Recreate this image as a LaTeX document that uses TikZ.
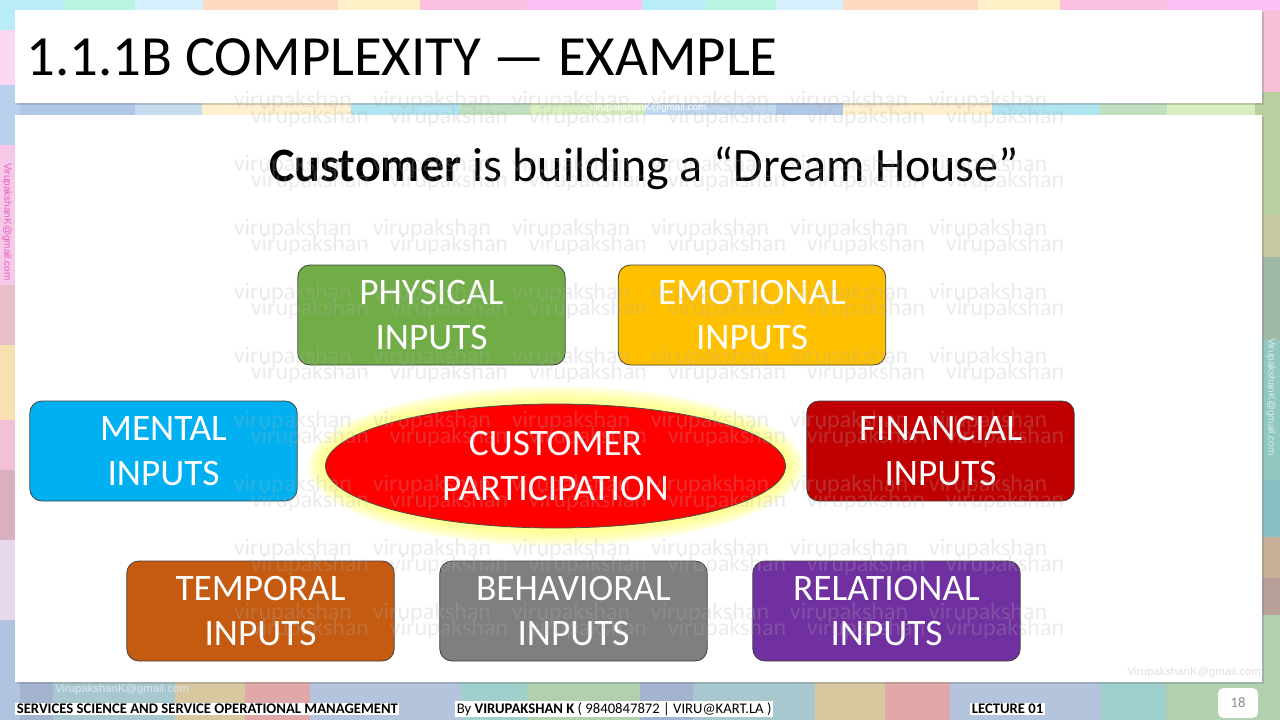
\documentclass[tikz,border=0pt]{standalone}
\usepackage{fontspec}
\setmainfont{Carlito}
\newfontfamily\arialf{Liberation Sans}
\usetikzlibrary{shapes.geometric,shadows}
\definecolor{cgreen}{HTML}{70AD47}
\definecolor{cgold}{HTML}{FFC000}
\definecolor{cblue}{HTML}{00B0F0}
\definecolor{cdred}{HTML}{C00000}
\definecolor{corange}{HTML}{C55A11}
\definecolor{cgray}{HTML}{7F7F7F}
\definecolor{cpurple}{HTML}{7030A0}
\definecolor{cglow}{HTML}{FFFF66}
\definecolor{wmgray}{HTML}{B0B0B0}
\newcommand\bgtile[5]{\definecolor{tilec}{HTML}{#5}\fill[tilec] (#1,#2) rectangle (#3,#4);}
\tikzset{
  inbox/.style={draw=black!75, line width=0.6pt, rounded corners=9pt, minimum width=200.5pt,
    minimum height=75pt, inner sep=0pt, text=white, align=center,
    font=\fontsize{28}{34}\selectfont},
  panel/.style={fill=white, draw=none, inner sep=0pt, outer sep=0pt,
    drop shadow={opacity=0.35, shadow xshift=1.5pt, shadow yshift=-1.5pt}},
  wm/.style={text=wmgray, opacity=0.25, inner sep=0pt, font=\fontsize{18}{18}\selectfont},
  foot/.style={fill=white, inner sep=1.2pt, anchor=west, font=\fontsize{11}{13}\selectfont},
  mail/.style={inner sep=0pt, font=\arialf\fontsize{7.5}{8}\selectfont},
}
\begin{document}
\begin{tikzpicture}[x=0.75pt,y=-0.75pt]
\useasboundingbox (0,0) rectangle (1280,720);
% ---------- background tiles ----------
\bgtile{0}{0}{65}{60}{B8ECF8}\bgtile{65}{0}{135}{60}{B8F5E0}\bgtile{135}{0}{203}{60}{D4F0FC}
\bgtile{203}{0}{338}{60}{FFD8C0}\bgtile{338}{0}{420}{60}{FFF0C8}\bgtile{420}{0}{527}{60}{FCC0E0}
\bgtile{527}{0}{642}{60}{FCC0F4}\bgtile{642}{0}{706}{60}{B8ECF8}\bgtile{706}{0}{776}{60}{B8F5E0}
\bgtile{776}{0}{843}{60}{D4F0FC}\bgtile{843}{0}{978}{60}{FFD8C0}\bgtile{978}{0}{1060}{60}{FFF0C8}
\bgtile{1060}{0}{1167}{60}{FCC0E0}\bgtile{1167}{0}{1280}{60}{FCC0F4}
\bgtile{0}{60}{135}{140}{B0C8E8}\bgtile{135}{60}{202}{140}{C8DCF0}\bgtile{202}{60}{351}{140}{FFF0D0}
\bgtile{351}{60}{460}{140}{B0E4F0}\bgtile{460}{60}{530}{140}{C0E0C0}\bgtile{530}{60}{645}{140}{D8F0C0}
\bgtile{645}{60}{776}{140}{C0D8F0}\bgtile{776}{60}{843}{140}{B0C8E8}\bgtile{843}{60}{992}{140}{FFF0D0}
\bgtile{992}{60}{1100}{140}{B0E4F0}\bgtile{1100}{60}{1167}{140}{C0E0C0}\bgtile{1167}{60}{1280}{140}{D8F0C0}
% left column
\bgtile{0}{0}{20}{30}{B8ECF8}\bgtile{0}{30}{20}{85}{FCD8F4}\bgtile{0}{85}{20}{145}{B8D0EC}
\bgtile{0}{145}{20}{285}{F8C8E8}\bgtile{0}{285}{20}{345}{E8C0C8}\bgtile{0}{345}{20}{420}{F8E0B0}
\bgtile{0}{420}{20}{470}{F4C0D8}\bgtile{0}{470}{20}{540}{D8B0C0}\bgtile{0}{540}{20}{620}{E8D8EC}
\bgtile{0}{620}{20}{720}{B0C4E0}
% right column
\bgtile{1255}{0}{1280}{10}{FCC0F4}\bgtile{1255}{10}{1280}{92}{F8C0D8}\bgtile{1255}{92}{1280}{215}{B8D0A0}
\bgtile{1255}{215}{1280}{257}{C8C8A0}\bgtile{1255}{257}{1280}{340}{A0B8A8}\bgtile{1255}{340}{1280}{480}{90C8C0}
\bgtile{1255}{480}{1280}{537}{88C0C8}\bgtile{1255}{537}{1280}{578}{C8B098}\bgtile{1255}{578}{1280}{615}{B8A098}
\bgtile{1255}{615}{1280}{720}{B0D0B0}
% bottom row
\bgtile{20}{675}{53}{720}{A4B4D0}\bgtile{53}{675}{175}{720}{A8C8D0}\bgtile{175}{675}{245}{720}{D8C8A0}
\bgtile{245}{675}{310}{720}{E0A8A8}\bgtile{310}{675}{461}{720}{B4C4DC}\bgtile{461}{675}{527}{720}{A0D0CC}
\bgtile{527}{675}{640}{720}{B0D0B0}\bgtile{640}{675}{693}{720}{A4B4D0}\bgtile{693}{675}{815}{720}{A8C8D0}
\bgtile{815}{675}{885}{720}{D8C8A0}\bgtile{885}{675}{950}{720}{E0A8A8}\bgtile{950}{675}{1101}{720}{B4C4DC}
\bgtile{1101}{675}{1166}{720}{A0D0CC}\bgtile{1166}{675}{1255}{720}{B0D0B0}
% ---------- white panels ----------
\node[panel, minimum width=935.25pt, minimum height=69.75pt] (titlebox) at (638.5,56.5) {};
\node[panel, minimum width=935.25pt, minimum height=425.25pt] (contentbox) at (638.5,398.5) {};
% ---------- title and subtitle ----------
\node[anchor=base west, inner sep=0pt, font=\fontsize{42.6}{50}\selectfont] (title) at (26,76) {1.1.1B COMPLEXITY — EXAMPLE};
\node[anchor=base, inner sep=0pt, font=\fontsize{36}{44}\selectfont] (sub) at (644,182) {\textbf{Customer} is building a “Dream House”};
% ---------- glow and ellipse ----------
\foreach \d in {18,16,...,2} {
  \fill[cglow, opacity=0.12] (555.5,466) ellipse [x radius={(230+\d)*0.75pt}, y radius={(62+\d)*0.75pt}];
}
\node[ellipse, draw=black!70, line width=0.6pt, fill=red, minimum width=345pt, minimum height=93pt,
  inner sep=0pt, text=white, align=center, font=\fontsize{28}{34}\selectfont] (cp) at (555.5,466) {CUSTOMER\\PARTICIPATION};
% ---------- input boxes ----------
\node[inbox, fill=cgreen] (physical) at (431.5,315) {PHYSICAL\\INPUTS};
\node[inbox, fill=cgold] (emotional) at (752,315) {EMOTIONAL\\INPUTS};
\node[inbox, fill=cblue] (mental) at (163.5,451) {MENTAL\\INPUTS};
\node[inbox, fill=cdred] (financial) at (940.5,451) {FINANCIAL\\INPUTS};
\node[inbox, fill=corange] (temporal) at (260.5,611) {TEMPORAL\\INPUTS};
\node[inbox, fill=cgray] (behavioral) at (573.5,611) {BEHAVIORAL\\INPUTS};
\node[inbox, fill=cpurple] (relational) at (886.5,611) {RELATIONAL\\INPUTS};
% ---------- watermark ----------
\foreach \k in {0,...,8} {
  \foreach \j in {0,...,5} {
    \node[wm] (wa\k\j) at ({293+139*\j},{101+64*\k}) {virupakshan};
    \node[wm] (wb\k\j) at ({310+139*\j},{117+64*\k}) {virupakshan};
  }
}
% ---------- e-mail marks ----------
\node[mail, anchor=west, text=white] (mailtop) at (590,108) {virupakshanK@gmail.com};
\node[mail, rotate=-90, text={rgb,255:red,224;green,96;blue,192}] (mailleft) at (7,222) {VirupakshanK@gmail.com};
\node[mail, rotate=-90, text=white, opacity=0.7] (mailright) at (1271,397) {VirupakshanK@gmail.com};
\node[mail, anchor=west, text=black!12, font=\arialf\fontsize{8.5}{9}\selectfont] (mailbr) at (1127,673) {VirupakshanK@gmail.com};
\node[mail, anchor=west, text={rgb,255:red,220;green,228;blue,240}, font=\arialf\fontsize{8.5}{9}\selectfont] (mailbl) at (55,690) {VirupakshanK@gmail.com};
% ---------- footer ----------
\node[foot] (course) at (15,709) {\bfseries SERVICES SCIENCE AND SERVICE OPERATIONAL MANAGEMENT};
\node[foot] (author) at (455,709) {By \textbf{VIRUPAKSHAN K} ( 9840847872 | VIRU@KART.LA )};
\node[foot] (lecture) at (970,709) {\bfseries LECTURE 01};
\node[fill=white, rounded corners=4pt, minimum width=30pt, minimum height=22.5pt, inner sep=0pt,
  text=black!45, font=\fontsize{11}{12}\selectfont] (page) at (1238,703) {18};
\end{tikzpicture}
\end{document}
